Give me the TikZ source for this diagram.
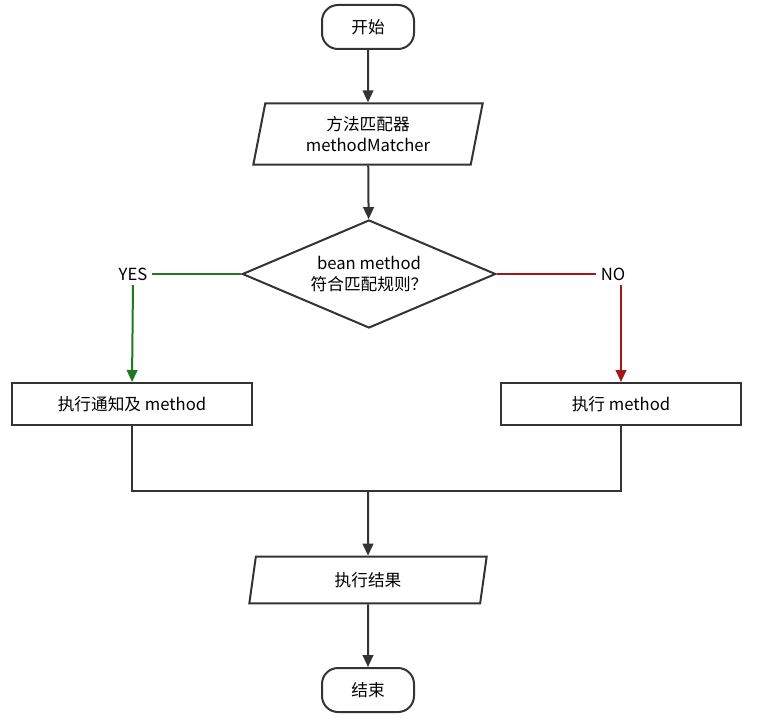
\documentclass[tikz,border=0pt]{standalone}
\usepackage{fontspec}
\setmainfont{Noto Sans CJK SC}
\usetikzlibrary{arrows.meta,shapes.geometric}
\definecolor{ln}{HTML}{333333}
\definecolor{yesg}{HTML}{1E7A1E}
\definecolor{nor}{HTML}{A01818}
\begin{document}
\begin{tikzpicture}[x=0.75pt,y=-0.75pt,
  every node/.style={font=\fontsize{12.5}{16}\selectfont,text=black},
  box/.style={draw=ln,line width=1.5pt,minimum width=180pt,minimum height=31.5pt},
  term/.style={draw=ln,line width=1.5pt,rounded corners=12pt,minimum width=69pt,minimum height=33pt},
  para/.style={draw=ln,line width=1.5pt,trapezium,trapezium left angle=75,trapezium right angle=105,minimum height=#1},
  arr/.style={line width=1.5pt,draw=ln,-{Triangle[length=9pt,width=8pt]}},
  lnk/.style={line width=1.5pt,draw=ln}]
\useasboundingbox[fill=white] (0,0) rectangle (761,724);
\node[term] (start) at (368,27) {开始};
\node[para=46pt,minimum width=172pt,trapezium stretches body,align=center] (mm) at (368,134) {方法匹配器\\methodMatcher};
\node[draw=ln,line width=1.5pt,diamond,aspect=2.35,minimum width=190pt,minimum height=81pt,inner sep=0pt,align=center] (dec) at (369,274) {bean method\\符合匹配规则？};
\node[box] (yes) at (132,404) {执行通知及 method};
\node[box] (no) at (621,404) {执行 method};
\node[para=35pt,minimum width=178pt,trapezium stretches body] (res) at (368,580) {执行结果};
\node[term] (end) at (368,690) {结束};
\node (yl) at (133,274) {YES};
\node (nl) at (613,274) {NO};
\coordinate (m) at (368,491);
\draw[arr] (start) -- (mm);
\draw[arr] (mm) -- (dec);
\draw[line width=1.5pt,yesg] (dec.west) -- (yl.east);
\draw[line width=1.5pt,yesg,-{Triangle[length=9pt,width=8pt]}] (yl.south) -- (yes.north);
\draw[line width=1.5pt,nor] (dec.east) -- (nl.west);
\draw[line width=1.5pt,nor,-{Triangle[length=9pt,width=8pt]}] (nl.south -| no.north) -- (no.north);
\draw[lnk] (yes.south) |- (m) -| (no.south);
\draw[arr] (m) -- (res);
\draw[arr] (res) -- (end);
\end{tikzpicture}
\end{document}
